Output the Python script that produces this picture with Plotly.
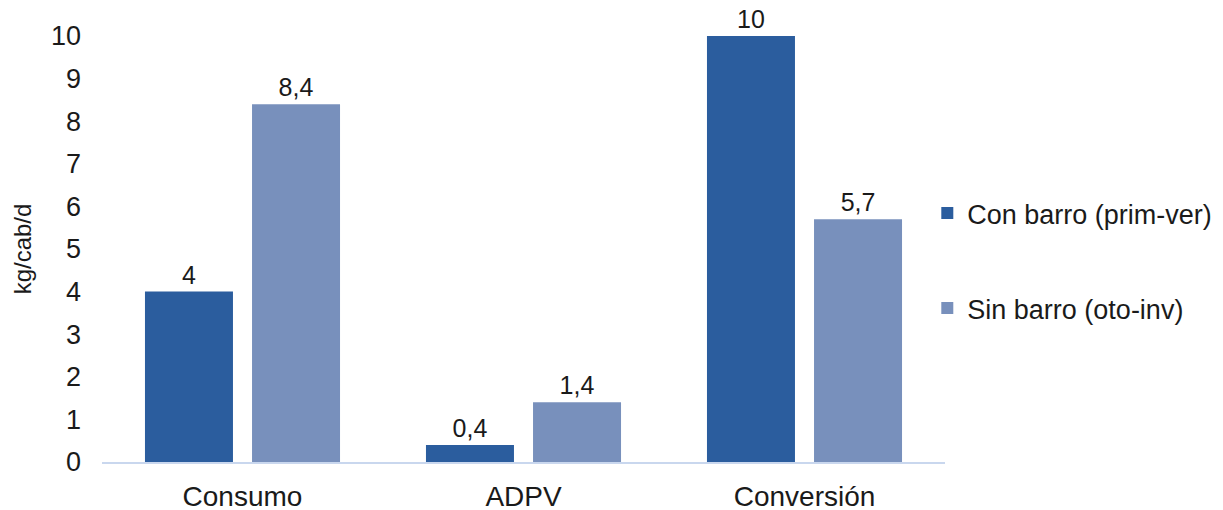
import plotly.graph_objects as go

categories = ["Consumo", "ADPV", "Conversión"]
con_barro = [4, 0.4, 10]
sin_barro = [8.4, 1.4, 5.7]
con_labels = ["4", "0,4", "10"]
sin_labels = ["8,4", "1,4", "5,7"]

font = "Liberation Sans, Arial, sans-serif"

fig = go.Figure()

fig.add_trace(go.Bar(
    name="Con barro (prim-ver)",
    x=categories,
    y=con_barro,
    text=con_labels,
    textposition="outside",
    cliponaxis=False,
    legendgroup="a",
    marker={"color": "#2B5D9E", "line": {"width": 0}},
))
fig.add_trace(go.Bar(
    name="Sin barro (oto-inv)",
    x=categories,
    y=sin_barro,
    text=sin_labels,
    textposition="outside",
    cliponaxis=False,
    legendgroup="b",
    marker={"color": "#7890BC", "line": {"width": 0}},
))

fig.update_traces(textfont={"size": 25, "color": "#1a1a1a", "family": font})

# page body adds an 8px offset, margins are set to compensate;
# the figure is a bit wider than the window so the legend doesn't squeeze the plot
fig.update_layout(
    width=1240,
    height=502,
    plot_bgcolor="white",
    paper_bgcolor="white",
    font={"family": font, "color": "#1a1a1a"},
    margin={"l": 94, "r": 303, "t": 28, "b": 48},
    bargap=0.238,
    bargroupgap=0.178,
    uniformtext={"mode": "show", "minsize": 8},
    xaxis={
        "showline": True,
        "linecolor": "#C9D7EE",
        "linewidth": 2,
        "tickfont": {"size": 28},
        "ticks": "",
        "ticklabelstandoff": 8,
        "automargin": False,
    },
    yaxis={
        "range": [0, 10],
        "dtick": 1,
        "showgrid": False,
        "zeroline": False,
        "tickfont": {"size": 27},
        "ticklabelstandoff": 20,
        "automargin": False,
        "title": {"text": "kg/cab/d", "font": {"size": 24}, "standoff": 12},
    },
    legend={
        "x": 0.979,
        "xanchor": "left",
        "y": 0.472,
        "yanchor": "middle",
        "font": {"size": 27},
        "tracegroupgap": 57,
        "traceorder": "grouped",
        "itemwidth": 30,
    },
)

fig.write_html("out.html")
